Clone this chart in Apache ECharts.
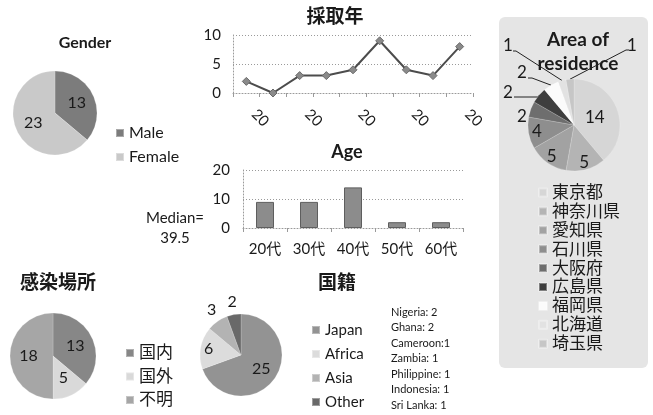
<!DOCTYPE html>
<html>
<head>
<meta charset="utf-8">
<script src="https://cdn.jsdelivr.net/npm/echarts@6/dist/echarts.min.js"></script>
<style>
  html, body { margin: 0; padding: 0; background: #fff; }
  #chart { width: 653px; height: 415px; }
</style>
</head>
<body>
<div id="chart"></div>
<script>
// Patient profile summary
const genderNames = ['Male', 'Female'];
const genderValues = [13, 23];

const yearLabels = ['20', '20', '20', '20', '20', '20', '20', '20', '20'];
const yearValues = [2, 0, 3, 3, 4, 9, 4, 3, 8];

const ageCategories = ['20代', '30代', '40代', '50代', '60代'];
const ageValues = [9, 9, 14, 2, 2];
const medianAge = 39.5;

const areaNames = ['東京都', '神奈川県', '愛知県', '石川県', '大阪府', '広島県', '福岡県', '北海道', '埼玉県'];
const areaValues = [14, 5, 5, 4, 2, 2, 2, 1, 1];

const placeNames = ['国内', '国外', '不明'];
const placeValues = [13, 5, 18];

const nationNames = ['Japan', 'Africa', 'Asia', 'Other'];
const nationValues = [25, 6, 3, 2];

const otherCountries = ['Nigeria: 2', 'Ghana: 2', 'Cameroon:1', 'Zambia: 1', 'Philippine: 1', 'Indonesia: 1', 'Sri Lanka: 1'];

const FONT = 'Lato, "Noto Sans CJK JP", sans-serif';
const TXT = '#1a1a1a';

const genderColors = ['#7c7c7c', '#c9c9c9'];
const areaColors = ['#d6d6d6', '#b4b4b4', '#a2a2a2', '#8e8e8e', '#6e6e6e', '#3e3e3e', '#fbfbfb', '#e2e2e2', '#c6c6c6'];
const placeColors = ['#878787', '#d9d9d9', '#a6a6a6'];
const nationColors = ['#939393', '#dcdcdc', '#b3b3b3', '#696969'];

const areaCenter = [574, 125];
const nationCenter = [241, 355];

// Callout placement for the thin slices of the residence pie
const areaCallouts = {
  4: { x: 522, y: 117, line: null },
  5: { x: 508, y: 93, line: [[540, 97], [514, 97]] },
  6: { x: 522, y: 73, line: [[532, 78], [528, 78]] },
  7: { x: 508, y: 46, line: [[516, 51], [513, 51]] },
  8: { x: 632, y: 46, line: [[626, 50], [629, 50]] }
};
// Radial push of inside labels (1 = library default)
const areaInsideScale = { 0: 0.85, 1: 1.5, 2: 1.5, 3: 1.45 };
const nationInsideScale = { 0: 1.05, 1: 1.4 };

function pieData(names, values, colors, labelPos) {
  return names.map((n, i) => {
    const item = { name: n, value: values[i], itemStyle: { color: colors[i] } };
    if (labelPos && labelPos[i] === 'outside') {
      item.label = { position: 'outside' };
      item.labelLine = { show: true };
    }
    return item;
  });
}

function pushInside(params, center, k) {
  const r = params.labelRect;
  const cx = r.x + r.width / 2, cy = r.y + r.height / 2;
  return {
    x: center[0] + (cx - center[0]) * k,
    y: center[1] + (cy - center[1]) * k,
    align: 'center', verticalAlign: 'middle'
  };
}

const pieBase = {
  type: 'pie',
  startAngle: 90,
  clockwise: true,
  silent: true,
  animation: false,
  avoidLabelOverlap: false,
  itemStyle: { borderColor: 'rgba(255,255,255,0.35)', borderWidth: 0.5 },
  label: { show: true, position: 'inside', formatter: '{c}', fontFamily: FONT, fontSize: 16, color: TXT },
  labelLine: { show: false },
  emphasis: { disabled: true }
};

function titleText(text, x, y, size, weight) {
  return {
    type: 'text', x: x, y: y, silent: true,
    style: { text: text, fontFamily: FONT, fontSize: size, fontWeight: weight || 'bold', fill: TXT, textAlign: 'center', textVerticalAlign: 'middle' }
  };
}

function legendAt(names, left, top, lineH, gap, size) {
  return {
    data: names, orient: 'vertical', left: left, top: top, padding: 0,
    itemWidth: 8, itemHeight: 8, itemGap: gap, icon: 'rect', selectedMode: false,
    textStyle: { fontFamily: FONT, fontSize: size, color: TXT, lineHeight: lineH }
  };
}

const graphics = [
  { type: 'rect', z: -10, silent: true, shape: { x: 499, y: 17, width: 149, height: 351, r: 6 }, style: { fill: '#e5e5e5' } },
  titleText('Gender', 85, 43, 16),
  titleText('採取年', 335, 17, 19),
  titleText('Age', 347, 152, 18),
  titleText('Area of', 578, 40, 19),
  titleText('residence', 578, 64, 19),
  titleText('感染場所', 58, 283, 19),
  titleText('国籍', 337, 283, 19),
  titleText('Median=', 175, 218, 15, 'normal'),
  titleText(String(medianAge), 175, 238, 15, 'normal')
];
otherCountries.forEach((t, i) => {
  graphics.push({
    type: 'text', x: 391, y: 312 + i * 15.5, silent: true,
    style: { text: t, fontFamily: FONT, fontSize: 11, fill: TXT, textAlign: 'left', textVerticalAlign: 'middle' }
  });
});

const dotted = { color: '#9a9a9a', type: [1, 2], width: 1 };

const option = {
  animation: false,
  backgroundColor: '#ffffff',
  textStyle: { fontFamily: FONT },
  graphic: graphics,
  legend: [
    legendAt(genderNames, 115, 124, 18, 6, 16),
    legendAt(areaNames, 538, 184, 17, 1.9, 17),
    legendAt(placeNames, 125, 344, 18, 5.5, 17),
    legendAt(nationNames, 311, 321, 18, 6, 15)
  ],
  grid: [
    { left: 233, right: 180, top: 35, bottom: 322 },
    { left: 243, right: 190, top: 170, bottom: 187 }
  ],
  xAxis: [
    {
      type: 'category', gridIndex: 0, data: yearLabels, boundaryGap: true,
      axisLine: { show: true, lineStyle: dotted },
      axisTick: { show: true, interval: 0, length: 4, lineStyle: { color: '#9a9a9a' } },
      axisLabel: { interval: 1, rotate: -45, fontFamily: FONT, fontSize: 15, color: TXT, margin: 11, padding: [0, 0, 0, 11] }
    },
    {
      type: 'category', gridIndex: 1, data: ageCategories, boundaryGap: true,
      axisLine: { show: true, lineStyle: dotted },
      axisTick: { show: true, interval: 0, length: 4, lineStyle: { color: '#9a9a9a' } },
      axisLabel: { interval: 0, fontFamily: FONT, fontSize: 15, color: TXT, margin: 14 }
    }
  ],
  yAxis: [
    {
      type: 'value', gridIndex: 0, min: 0, max: 10, interval: 5,
      axisLine: { show: true, lineStyle: dotted },
      axisTick: { show: false },
      splitLine: { show: true, lineStyle: dotted },
      axisLabel: { fontFamily: FONT, fontSize: 15, color: TXT, margin: 12 }
    },
    {
      type: 'value', gridIndex: 1, min: 0, max: 20, interval: 10,
      axisLine: { show: true, lineStyle: dotted },
      axisTick: { show: false },
      splitLine: { show: true, lineStyle: dotted },
      axisLabel: { fontFamily: FONT, fontSize: 15, color: TXT, margin: 13 }
    }
  ],
  series: [
    Object.assign({}, pieBase, {
      name: 'Gender', center: [55, 113], radius: 42,
      data: pieData(genderNames, genderValues, genderColors)
    }),
    {
      type: 'line', xAxisIndex: 0, yAxisIndex: 0, data: yearValues, silent: true,
      symbol: 'diamond', symbolSize: 8,
      lineStyle: { color: '#4c4c4c', width: 2 },
      itemStyle: { color: '#8a8a8a', borderColor: '#6a6a6a', borderWidth: 1 }
    },
    {
      type: 'bar', xAxisIndex: 1, yAxisIndex: 1, data: ageValues, silent: true,
      barWidth: 18,
      itemStyle: { color: '#8c8c8c', borderColor: '#5e5e5e', borderWidth: 1 }
    },
    Object.assign({}, pieBase, {
      name: 'Area', center: areaCenter, radius: 46,
      label: Object.assign({}, pieBase.label, { fontSize: 17 }),
      labelLine: { show: false, length: 8, length2: 8, lineStyle: { color: '#222', width: 1 } },
      data: pieData(areaNames, areaValues, areaColors,
        ['inside', 'inside', 'inside', 'inside', 'outside', 'outside', 'outside', 'outside', 'outside']),
      labelLayout: function (params) {
        if (areaInsideScale[params.dataIndex] !== undefined) {
          return pushInside(params, areaCenter, areaInsideScale[params.dataIndex]);
        }
        const c = areaCallouts[params.dataIndex];
        if (!c) return {};
        const out = { x: c.x, y: c.y, align: 'center', verticalAlign: 'middle' };
        if (params.labelLinePoints) {
          const edge = params.labelLinePoints[0];
          out.labelLinePoints = c.line ? [edge, c.line[0], c.line[1]] : [edge, edge, edge];
        }
        return out;
      }
    }),
    Object.assign({}, pieBase, {
      name: 'Place', center: [53, 356], radius: 43,
      data: pieData(placeNames, placeValues, placeColors)
    }),
    Object.assign({}, pieBase, {
      name: 'Nation', center: nationCenter, radius: 41,
      labelLine: { show: false, length: 10, length2: 0, lineStyle: { color: 'transparent' } },
      data: pieData(nationNames, nationValues, nationColors, ['inside', 'inside', 'outside', 'outside']),
      labelLayout: function (params) {
        if (nationInsideScale[params.dataIndex] !== undefined) {
          return pushInside(params, nationCenter, nationInsideScale[params.dataIndex]);
        }
        const p = params.labelLinePoints;
        if (!p) return {};
        // label sits just beyond the slice, centred on the elbow point
        return { x: p[1][0], y: p[1][1] - 3, align: 'center', verticalAlign: 'middle' };
      }
    })
  ]
};

const chart = echarts.init(document.getElementById('chart'), null, { renderer: 'canvas' });
chart.setOption(option);
</script>
</body>
</html>
